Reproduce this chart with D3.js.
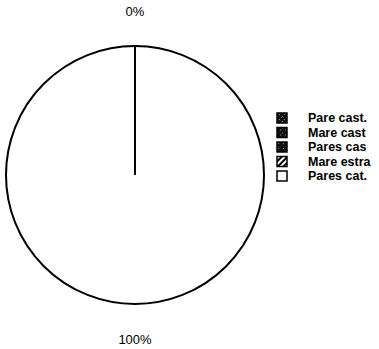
<!DOCTYPE html>
<html>
<head>
<meta charset="utf-8">
<script src="https://cdn.jsdelivr.net/npm/d3@7"></script>
<style>
  body { margin: 0; background: #fff; }
  text { font-family: "Liberation Sans", Arial, sans-serif; fill: #000; }
</style>
</head>
<body>
<div id="chart"></div>
<script>
var categories = ["Pare cast.", "Mare cast", "Pares cas", "Mare estra", "Pares cat."];
var values = [0, 0, 0, 0, 100];
var fills = ["url(#dots1)", "url(#dots2)", "url(#dots3)", "url(#hatch)", "#fff"];

var width = 379;
var height = 349;
var cx = 135, cy = 175, radius = 129;

var svg = d3.select("#chart")
    .append("svg")
    .attr("width", width)
    .attr("height", height);

// patterns for legend swatches
var defs = svg.append("defs");
function dots(id, pts) {
    var p = defs.append("pattern")
        .attr("id", id)
        .attr("patternUnits", "userSpaceOnUse")
        .attr("width", 5).attr("height", 5);
    p.append("rect").attr("width", 5).attr("height", 5).attr("fill", "#111");
    pts.forEach(function (d) {
        p.append("rect").attr("x", d[0]).attr("y", d[1])
            .attr("width", 1).attr("height", 1).attr("fill", "#888");
    });
}
dots("dots1", [[0, 0], [3, 2], [1, 4]]);
dots("dots2", [[1, 1], [4, 3]]);
dots("dots3", [[2, 2]]);
var h = defs.append("pattern")
    .attr("id", "hatch")
    .attr("patternUnits", "userSpaceOnUse")
    .attr("width", 4).attr("height", 4)
    .attr("patternTransform", "rotate(45)");
h.append("rect").attr("width", 4).attr("height", 4).attr("fill", "#fff");
h.append("rect").attr("width", 2).attr("height", 4).attr("fill", "#000");

var pie = d3.pie().sort(null).value(function (d) { return d; });
var arcs = pie(values);

var arc = d3.arc().innerRadius(0).outerRadius(radius);
var labelArc = d3.arc().innerRadius(radius + 35).outerRadius(radius + 35);

var g = svg.append("g").attr("transform", "translate(" + cx + "," + cy + ")");

g.selectAll("path.slice")
    .data(arcs)
    .enter().append("path")
    .attr("class", "slice")
    .attr("d", arc)
    .attr("fill", function (d, i) { return fills[i]; })
    .attr("stroke", "#000")
    .attr("stroke-width", 2);

// slice borders (radii), drawn even for empty slices
g.selectAll("line.edge")
    .data(arcs)
    .enter().append("line")
    .attr("class", "edge")
    .attr("x1", 0).attr("y1", 0)
    .attr("x2", function (d) { return radius * Math.sin(d.startAngle); })
    .attr("y2", function (d) { return -radius * Math.cos(d.startAngle); })
    .attr("stroke", "#000")
    .attr("stroke-width", 2);

// one label per distinct position
var seen = {};
g.selectAll("text.pct")
    .data(arcs.filter(function (d) {
        var k = Math.round((d.startAngle + d.endAngle) * 100);
        if (seen[k]) return false;
        seen[k] = true;
        return true;
    }))
    .enter().append("text")
    .attr("class", "pct")
    .attr("transform", function (d) { return "translate(" + labelArc.centroid(d) + ")"; })
    .attr("text-anchor", "middle")
    .attr("dy", "0.35em")
    .attr("font-size", "13px")
    .text(function (d) { return d.data + "%"; });

var legend = svg.append("g").attr("transform", "translate(276,112)");
var row = legend.selectAll("g")
    .data(categories)
    .enter().append("g")
    .attr("transform", function (d, i) { return "translate(0," + (i * 14.5) + ")"; });

row.append("rect")
    .attr("x", 1).attr("y", 1)
    .attr("width", 10).attr("height", 10)
    .attr("fill", function (d, i) { return fills[i]; })
    .attr("stroke", "#000")
    .attr("stroke-width", 1.5);

row.append("text")
    .attr("x", 32)
    .attr("y", 6)
    .attr("dy", "0.35em")
    .attr("font-size", "12.5px")
    .attr("font-weight", "bold")
    .text(function (d) { return d; });
</script>
</body>
</html>
